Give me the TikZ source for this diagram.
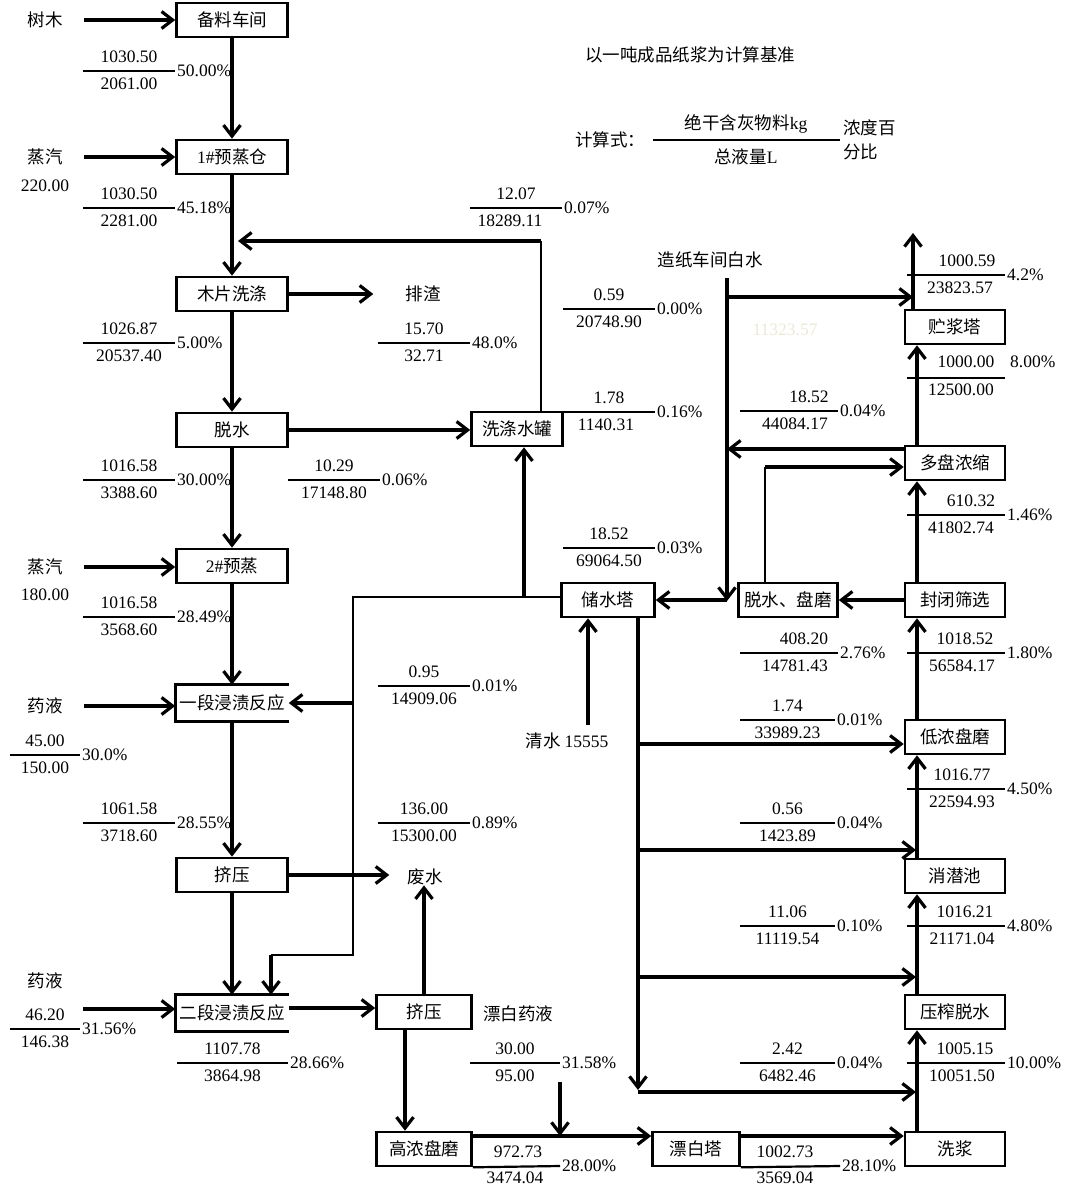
\documentclass[tikz,border=0pt]{standalone}
\usepackage{fontspec}
\setmainfont{Liberation Serif}
\newfontfamily\zhfam{Noto Sans CJK SC}
\usetikzlibrary{arrows.meta,calc}
\newcommand\zhf{\zhfam\fontsize{17.5}{20}\selectfont}
\newcommand\nmf{\rmfamily\fontsize{17.5}{20}\selectfont}
\definecolor{faintc}{RGB}{236,234,214}
\tikzset{
  box/.style={draw, line width=2.6pt, minimum height=34pt, inner sep=0pt, font=\zhf},
  boxline/.style={line width=2.6pt},
  arr/.style={line width=3.2pt, -{Straight Barb[length=11pt,width=17pt]}},
  thinl/.style={line width=1.8pt},
  fracl/.style={line width=2.2pt},
  num/.style={font=\nmf, inner sep=0pt},
  lab/.style={font=\zhf, inner sep=0pt},
}
% name, x1, x2, y, numerator, denominator, percent, num offset, den offset
\newcommand\fracrowo[9]{%
  \draw[fracl] (#2,#4) -- (#3,#4);
  \node[num] (#1n) at ({(#2+#3)/2+#8},{#4-14}) {#5};
  \node[num] (#1d) at ({(#2+#3)/2+#9},{#4+13}) {#6};
  \node[num,anchor=west] (#1p) at ({#3+2},#4) {#7};
}
\newcommand\fracrow[7]{\fracrowo{#1}{#2}{#3}{#4}{#5}{#6}{#7}{0}{0}}
\begin{document}
\begin{tikzpicture}[x=1pt,y=-1pt]
\fill[white] (0,0) rectangle (1067,1188);
\useasboundingbox (0,0) rectangle (1067,1188);

% ---------- boxes ----------
\node[box,minimum width=111pt] (bl) at (232,20) {备料车间};
\node[box,minimum width=111pt] (yz1) at (232,157) {{\nmf 1\#}预蒸仓};
\node[box,minimum width=111pt] (mp) at (232,294) {木片洗涤};
\node[box,minimum width=111pt] (ts) at (232,430) {脱水};
\node[box,minimum width=111pt] (yz2) at (232,566) {{\nmf 2\#}预蒸};
\node[box,draw=none,minimum width=111pt] (jz1) at (232,703) {一段浸渍反应};
\node[box,minimum width=111pt] (jy1) at (232,875) {挤压};
\node[box,draw=none,minimum width=111pt] (jz2) at (232,1013) {二段浸渍反应};
\node[box,minimum width=95pt] (jy2) at (424,1012) {挤压};
\node[box,minimum width=95pt] (gn) at (424,1149) {高浓盘磨};
\node[box,minimum width=87pt] (pbt) at (696,1149) {漂白塔};
\node[box,minimum width=100pt] (xj) at (955,1149) {洗浆};
\node[box,minimum width=100pt] (yzts) at (955,1012) {压榨脱水};
\node[box,minimum width=100pt] (xqc) at (955,876) {消潜池};
\node[box,minimum width=100pt] (dn) at (955,737) {低浓盘磨};
\node[box,minimum width=100pt] (fb) at (955,600) {封闭筛选};
\node[box,minimum width=99pt] (tspm) at (788,600) {脱水、盘磨};
\node[box,minimum width=100pt] (dp) at (955,463) {多盘浓缩};
\node[box,minimum width=100pt] (zj) at (955,327) {贮浆塔};
\node[box,minimum width=93pt] (csd) at (608,600) {储水塔};
\node[box,minimum width=91pt] (xdg) at (517,429) {洗涤水罐};
\draw[boxline] (jz1.north east) -- (jz1.north west) -- (jz1.south west) -- (jz1.south east);
\draw[boxline] (jz2.north east) -- (jz2.north west) -- (jz2.south west) -- (jz2.south east);

% ---------- labels ----------
\node[lab] (sm) at (45,20) {树木};
\node[lab] (zq1) at (45,157) {蒸汽};
\node[num] (zq1v) at (45,186) {220.00};
\node[lab] (zq2) at (45,567) {蒸汽};
\node[num] (zq2v) at (45,595) {180.00};
\node[lab] (yy1) at (45,706) {药液};
\node[lab] (yy2) at (45,981) {药液};
\node[lab] (pz) at (423,294) {排渣};
\node[lab] (fs) at (425,877) {废水};
\node[lab] (pbyy) at (518,1014) {漂白药液};
\node[lab] (bs) at (710,260) {造纸车间白水};
\node[lab] (qs) at (567,741) {清水\ {\nmf 15555}};
\node[lab] (title) at (690,55) {以一吨成品纸浆为计算基准};
\node[lab] (jss) at (610,140) {计算式：};
\draw[line width=2.8pt] (653,140) -- (840,140);
\node[lab] (fz) at (746,124) {绝干含灰物料{\nmf kg}};
\node[lab] (fm) at (746,157) {总液量{\nmf L}};
\node[lab,anchor=west] (nd1) at (843,128) {浓度百};
\node[lab,anchor=west] (nd2) at (843,152) {分比};
\node[num,text=faintc] (faint) at (785,330) {11323.57};

% ---------- main line (left) ----------
\draw[arr] ([xshift=21pt]sm.east) -- (sm.east -| bl.west);
\draw[arr] (bl.south) -- (yz1.north);
\draw[arr] ([xshift=21pt]zq1.east) -- (zq1.east -| yz1.west);
\draw[arr] (yz1.south) -- (mp.north);
\coordinate (r1) at (541,241);
\coordinate (r2) at (238,241);
\draw[thinl] (xdg.north -| r1) -- (r1);
\draw[arr] (r1) -- (r2);
\draw[arr, shorten >=32pt] (mp.east) -- (mp.east -| pz.west);
\draw[arr] (mp.south) -- (ts.north);
\draw[arr] (ts.east) -- (ts.east -| xdg.west);
\draw[arr] (ts.south) -- (yz2.north);
\draw[arr] ([xshift=21pt]zq2.east) -- (zq2.east -| yz2.west);
\draw[arr] (yz2.south) -- (jz1.north);
\draw[arr] ([xshift=21pt]yy1.east) -- (yy1.east -| jz1.west);
\draw[arr] (jz1.south) -- (jy1.north);
\draw[arr, shorten >=18pt] (jy1.east) -- (jy1.east -| fs.west);
\draw[arr] (jy1.south) -- (jz2.north);
\coordinate (y2s) at (83,1009);
\draw[arr] (y2s) -- (y2s -| jz2.west);
\draw[arr] ([yshift=5pt]jz2.east) -- ([yshift=5pt]jz2.east -| jy2.west);
\draw[arr] (jy2.north) -- (jy2.north |- fs.south);
\draw[arr] ([xshift=-19pt]jy2.south) -- ([xshift=-19pt]gn.north);
\coordinate (gl) at ([yshift=13pt]gn.east);
\draw[arr] (gl) -- (gl -| pbt.west);
\coordinate (pb1) at (560,1082);
\draw[arr] (pb1) -- (pb1 |- gl);
\draw[arr] ([yshift=13pt]pbt.east) -- ([yshift=13pt]pbt.east -| xj.west);

% ---------- right column ----------
\draw[arr] ([xshift=-38pt]xj.north) -- ([xshift=-38pt]yzts.south);
\draw[arr] ([xshift=-38pt]yzts.north) -- ([xshift=-38pt]xqc.south);
\draw[arr] ([xshift=-38pt]xqc.north) -- ([xshift=-38pt]dn.south);
\draw[arr] ([xshift=-38pt]dn.north) -- ([xshift=-38pt]fb.south);
\draw[arr] ([xshift=-38pt]fb.north) -- ([xshift=-38pt]dp.south);
\draw[arr] ([xshift=-38pt]dp.north) -- ([xshift=-38pt]zj.south);
\coordinate (top) at (913,233);
\draw[arr] (zj.north -| top) -- (top);
\draw[arr] (fb.west) -- (tspm.east);
\coordinate (t1) at (765,467);
\draw[thinl] (tspm.north -| t1) -- (t1);
\draw[arr] (t1) -- (t1 -| dp.west);

% white water
\coordinate (wt) at (727,278);
\coordinate (wb) at (727,601);
\coordinate (w1) at (727,297);
\draw[arr] (wt) -- (wb);
\draw[arr] (w1) -- (w1 -| top);
\draw[arr] ([yshift=14pt]dp.west) -- ([yshift=14pt]dp.west -| wt);
\draw[arr] (csd.east -| wb) -- (csd.east);

% storage tower left
\coordinate (L1) at (353,597);
\coordinate (L2) at (353,955);
\coordinate (L3) at (271,955);
\coordinate (L4) at (524,597);
\draw[thinl] ([yshift=3pt]csd.west) -- (L1) -- (L2) -- (L3);
\draw[arr] (L3) -- (L3 |- jz2.north);
\draw[arr] (jz1.east -| L1) -- (jz1.east);
\draw[arr] (L4) -- (L4 |- xdg.south);

% storage tower bottom
\coordinate (D0) at ([xshift=30pt]csd.south);
\coordinate (D1) at (638,1090);
\coordinate (V) at (916,0);
\draw[arr] (D0) -- (D1);
\draw[arr] ([yshift=-7pt]dn.west -| D0) -- ([yshift=-7pt]dn.west);
\coordinate (E1) at (638,850);
\coordinate (E2) at (638,977);
\coordinate (E3) at (638,1092);
\draw[arr] (E1) -- (E1 -| V);
\draw[arr] (E2) -- (E2 -| V);
\draw[arr] (E3) -- (E3 -| V);
\coordinate (qs1) at (588,725);
\draw[arr] (qs1) -- (qs1 |- csd.south);

% ---------- fractions ----------
\fracrow{fa}{83}{175}{71}{1030.50}{2061.00}{50.00\%}
\fracrow{fb}{83}{175}{208}{1030.50}{2281.00}{45.18\%}
\fracrowo{fc}{470}{562}{208}{12.07}{18289.11}{0.07\%}{0}{-6}
\fracrow{fd}{83}{175}{343}{1026.87}{20537.40}{5.00\%}
\fracrow{fe}{378}{470}{343}{15.70}{32.71}{48.0\%}
\fracrow{ff}{563}{655}{309}{0.59}{20748.90}{0.00\%}
\fracrowo{fg}{563}{655}{412}{1.78}{1140.31}{0.16\%}{0}{-3}
\fracrow{fh}{83}{175}{480}{1016.58}{3388.60}{30.00\%}
\fracrow{fi}{288}{380}{480}{10.29}{17148.80}{0.06\%}
\fracrow{fj}{563}{655}{548}{18.52}{69064.50}{0.03\%}
\fracrow{fk}{83}{175}{617}{1016.58}{3568.60}{28.49\%}
\fracrow{fl}{378}{470}{686}{0.95}{14909.06}{0.01\%}
\fracrow{fm}{83}{175}{823}{1061.58}{3718.60}{28.55\%}
\fracrow{fn}{378}{470}{823}{136.00}{15300.00}{0.89\%}
\fracrow{fo}{177}{288}{1063}{1107.78}{3864.98}{28.66\%}
\fracrow{fp}{470}{560}{1063}{30.00}{95.00}{31.58\%}
\fracrow{fq}{740}{835}{1063}{2.42}{6482.46}{0.04\%}
\fracrowo{fr}{907}{1005}{1063}{1005.15}{10051.50}{10.00\%}{9}{6}
\fracrow{fs}{740}{835}{926}{11.06}{11119.54}{0.10\%}
\fracrowo{ft}{907}{1005}{926}{1016.21}{21171.04}{4.80\%}{9}{6}
\fracrow{fu}{740}{835}{823}{0.56}{1423.89}{0.04\%}
\fracrowo{fv}{907}{1005}{789}{1016.77}{22594.93}{4.50\%}{6}{6}
\fracrow{fw}{740}{835}{720}{1.74}{33989.23}{0.01\%}
\fracrowo{fx}{907}{1005}{653}{1018.52}{56584.17}{1.80\%}{9}{6}
\fracrowo{fy}{740}{838}{653}{408.20}{14781.43}{2.76\%}{15}{6}
\fracrowo{fz}{907}{1005}{515}{610.32}{41802.74}{1.46\%}{15}{5}
\fracrowo{ga}{740}{838}{411}{18.52}{44084.17}{0.04\%}{20}{6}
\fracrowo{gb}{907}{1005}{275}{1000.59}{23823.57}{4.2\%}{11}{4}
\fracrow{gc}{10}{80}{755}{45.00}{150.00}{30.0\%}
\fracrow{gd}{10}{80}{1029}{46.20}{146.38}{31.56\%}

% special fractions
\draw[fracl] (907,378) -- (1005,378);
\node[num] (ge1) at (966,362) {1000.00};
\node[num] (ge2) at (961,390) {12500.00};
\node[num,anchor=west] (ge3) at (1010,362) {8.00\%};
\draw[fracl] (gn.south east) -- (560,1166);
\node[num] (gf1) at (518,1152) {972.73};
\node[num] (gf2) at (515,1178) {3474.04};
\node[num,anchor=west] (gf3) at (562,1166) {28.00\%};
\draw[fracl] (pbt.south east) -- (840,1166);
\node[num] (gg1) at (785,1152) {1002.73};
\node[num] (gg2) at (785,1178) {3569.04};
\node[num,anchor=west] (gg3) at (842,1166) {28.10\%};
\end{tikzpicture}
\end{document}
